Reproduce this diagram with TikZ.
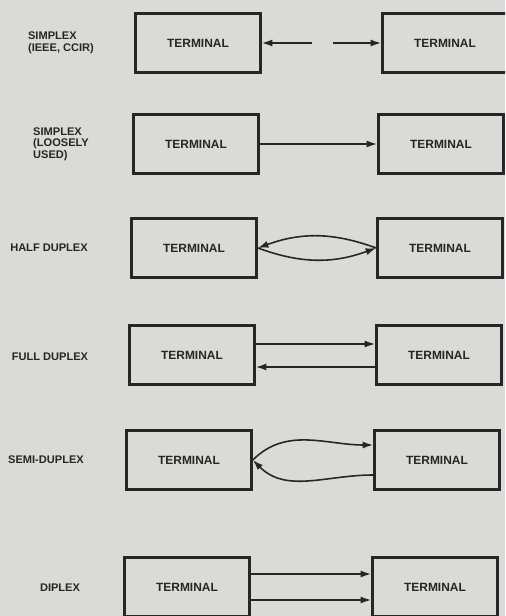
\documentclass[tikz,border=0pt]{standalone}
\usepackage{fontspec}
\setmainfont{Liberation Sans}
\usepackage{xcolor}
\usepackage{tikz}
\usetikzlibrary{arrows.meta, calc}
\definecolor{paper}{RGB}{218,218,215}
\definecolor{ink}{RGB}{38,38,38}
\begin{document}
\begin{tikzpicture}[
        x=0.02cm, y=0.02cm,
        every node/.style={font=\fontsize{6.3}{6.6}\selectfont\bfseries, text=ink},
        term/.style={draw=ink, line width=1.5pt, minimum width=2.5cm, minimum height=1.18cm, inner sep=0pt, font=\fontsize{6.8}{7}\selectfont\bfseries},
        lbl/.style={align=left, inner sep=0pt},
        arr/.style={draw=ink, line width=0.9pt, -{Latex[length=6pt,width=4pt]}}
    ]
    \fill[paper] (0,0) rectangle (505,616);
    \clip (0,0) rectangle (505,616);
    \useasboundingbox (0,0) rectangle (505,616);
    % simplex (ieee, ccir)
    \node[lbl] (t1) at (61,573) {SIMPLEX\\(IEEE, CCIR)};
    \node[term] (l1) at (198,573) {TERMINAL};
    \node[term] (r1) at (445,573) {TERMINAL};
    \coordinate (g1) at (312,573);
    \coordinate (g2) at (333,573);
    \draw[arr] (g1) -- (l1.east);
    \draw[arr] (g2) -- (r1.west);
    % simplex (loosely used)
    \node[lbl] (t2) at (61,472) {SIMPLEX\\(LOOSELY\\USED)};
    \node[term] (l2) at (196,472) {TERMINAL};
    \node[term] (r2) at (441,472) {TERMINAL};
    \draw[arr] (l2.east) -- (r2.west);
    % half duplex
    \node[lbl] (t3) at (49,368) {HALF DUPLEX};
    \node[term] (l3) at (194,368) {TERMINAL};
    \node[term] (r3) at (440,368) {TERMINAL};
    \draw[arr] (r3.west) to[out=160, in=20] (l3.east);
    \draw[arr] (l3.east) to[out=-20, in=200] (r3.west);
    % full duplex
    \node[lbl] (t4) at (50,259) {FULL DUPLEX};
    \node[term] (l4) at (192,261) {TERMINAL};
    \node[term] (r4) at (439,261) {TERMINAL};
    \draw[arr] ([yshift=2.2mm]l4.east) -- ([yshift=2.2mm]r4.west);
    \draw[arr] ([yshift=-2.4mm]r4.west) -- ([yshift=-2.4mm]l4.east);
    % semi-duplex
    \node[lbl] (t5) at (46,156) {SEMI-DUPLEX};
    \node[term] (l5) at (189,156) {TERMINAL};
    \node[term] (r5) at (437,156) {TERMINAL};
    \draw[arr] (l5.east) to[out=45, in=180] ([yshift=3mm]r5.west);
    \draw[arr] ([yshift=-3mm]r5.west) to[out=180, in=-45] (l5.east);
    % diplex
    \node[lbl] (t6) at (60,28) {DIPLEX};
    \node[term] (l6) at (187,29) {TERMINAL};
    \node[term] (r6) at (435,29) {TERMINAL};
    \draw[arr] ([yshift=2.6mm]l6.east) -- ([yshift=2.6mm]r6.west);
    \draw[arr] ([yshift=-2.6mm]l6.east) -- ([yshift=-2.6mm]r6.west);
\end{tikzpicture}
\end{document}
